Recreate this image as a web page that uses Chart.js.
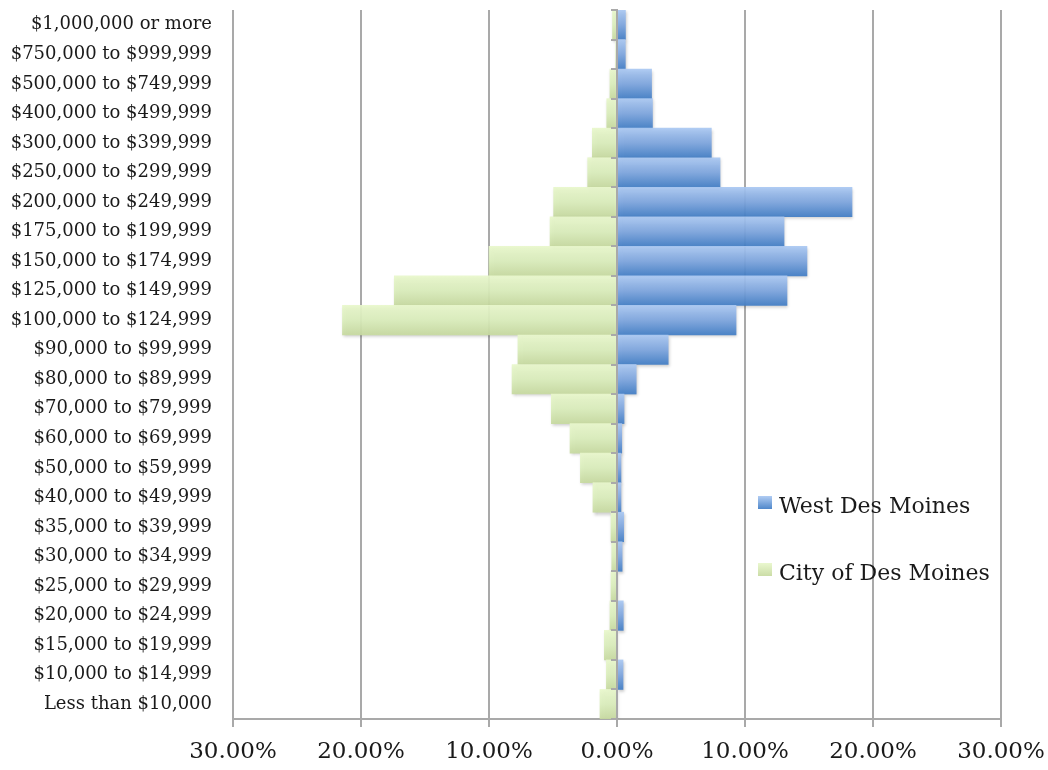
<!DOCTYPE html>
<html>
<head>
<meta charset="utf-8">
<script src="https://cdn.jsdelivr.net/npm/chart.js@4.4.1/dist/chart.umd.min.js"></script>
<style>
  html, body { margin: 0; padding: 0; background: #fff; }
  #wrap { width: 1048px; height: 770px; position: relative; }
</style>
</head>
<body>
<div id="wrap"><canvas id="c"></canvas></div>
<script>
// Household income brackets, top to bottom
const categories = [
  "$1,000,000 or more", "$750,000 to $999,999", "$500,000 to $749,999",
  "$400,000 to $499,999", "$300,000 to $399,999", "$250,000 to $299,999",
  "$200,000 to $249,999", "$175,000 to $199,999", "$150,000 to $174,999",
  "$125,000 to $149,999", "$100,000 to $124,999", "$90,000 to $99,999",
  "$80,000 to $89,999", "$70,000 to $79,999", "$60,000 to $69,999",
  "$50,000 to $59,999", "$40,000 to $49,999", "$35,000 to $39,999",
  "$30,000 to $34,999", "$25,000 to $29,999", "$20,000 to $24,999",
  "$15,000 to $19,999", "$10,000 to $14,999", "Less than $10,000"
];

// Share of households (%) per bracket
const westDesMoines = [
  0.66, 0.65, 2.70, 2.77, 7.37, 8.05, 18.36, 13.05, 14.84, 13.28, 9.30, 4.00,
  1.50, 0.55, 0.37, 0.31, 0.31, 0.52, 0.40, 0.00, 0.49, 0.00, 0.47, 0.00
];
const cityOfDesMoines = [
  0.35, 0.10, 0.55, 0.80, 1.93, 2.29, 4.95, 5.23, 10.00, 17.40, 21.45, 7.74,
  8.20, 5.13, 3.67, 2.86, 1.88, 0.47, 0.41, 0.47, 0.55, 0.99, 0.83, 1.33
];

// Axis tick values (shown as absolute percentages)
const xTickValues = [-30, -20, -10, 0, 10, 20, 30];

const BLUE = ['rgba(170,200,242,0.93)', 'rgba(126,166,223,0.93)', 'rgba(66,126,198,0.93)'];
const GREEN = ['rgba(232,247,203,0.93)', 'rgba(219,238,188,0.93)', 'rgba(199,218,160,0.93)'];
const GRID = '#a9a9a9';
const SERIF = '"DejaVu Serif", "Liberation Serif", serif';

function rowGradient(stops) {
  return (ctx) => {
    const chart = ctx.chart;
    const y = chart.scales && chart.scales.y;
    if (!chart.chartArea || !y || ctx.type !== 'data') return stops[1];
    const c = y.getPixelForValue(ctx.dataIndex);
    const h = y.height / categories.length;
    const g = chart.ctx.createLinearGradient(0, c - h / 2, 0, c + h / 2);
    g.addColorStop(0, stops[0]);
    g.addColorStop(0.5, stops[1]);
    g.addColorStop(1, stops[2]);
    return g;
  };
}

// Soft drop shadow under the bars
const barShadow = {
  id: 'barShadow',
  beforeDatasetsDraw(chart) {
    const ctx = chart.ctx;
    ctx.save();
    ctx.shadowColor = 'rgba(0,0,0,0.22)';
    ctx.shadowBlur = 3;
    ctx.shadowOffsetX = 1;
    ctx.shadowOffsetY = 2;
  },
  afterDatasetsDraw(chart) {
    chart.ctx.restore();
  }
};

// Central value axis with small category tick marks
const centerAxis = {
  id: 'centerAxis',
  afterDatasetsDraw(chart) {
    const { ctx, chartArea: a, scales: { x, y } } = chart;
    const x0 = Math.round(x.getPixelForValue(0));
    const h = y.height / categories.length;
    ctx.save();
    ctx.strokeStyle = GRID;
    ctx.lineWidth = 2;
    ctx.beginPath();
    ctx.moveTo(x0, a.top - 1);
    ctx.lineTo(x0, a.bottom);
    for (let i = 0; i <= categories.length; i++) {
      const yy = Math.round(y.top + i * h);
      ctx.moveTo(x0 - 6, yy);
      ctx.lineTo(x0, yy);
    }
    ctx.stroke();
    ctx.restore();
  }
};

// Legend placed inside the plot, lower right
const insideLegend = {
  id: 'insideLegend',
  afterDraw(chart) {
    const ctx = chart.ctx;
    const items = [
      { ds: chart.data.datasets[0], stops: BLUE, y: 496 },
      { ds: chart.data.datasets[1], stops: GREEN, y: 563 }
    ];
    ctx.save();
    ctx.font = '22px ' + SERIF;
    ctx.textBaseline = 'middle';
    items.forEach(it => {
      const g = ctx.createLinearGradient(0, it.y, 0, it.y + 13);
      g.addColorStop(0, it.stops[0]);
      g.addColorStop(1, it.stops[2]);
      ctx.fillStyle = g;
      ctx.fillRect(758, it.y, 14, 13);
      ctx.fillStyle = '#1a1a1a';
      ctx.fillText(it.ds.label, 779, it.y + 11);
    });
    ctx.restore();
  }
};

new Chart(document.getElementById('c'), {
  type: 'bar',
  data: {
    labels: categories,
    datasets: [
      {
        label: 'West Des Moines',
        data: westDesMoines,
        backgroundColor: rowGradient(BLUE),
        borderWidth: 0,
        barPercentage: 1,
        categoryPercentage: 1
      },
      {
        label: 'City of Des Moines',
        data: cityOfDesMoines.map(v => -v),
        backgroundColor: rowGradient(GREEN),
        borderWidth: 0,
        barPercentage: 1,
        categoryPercentage: 1
      }
    ]
  },
  options: {
    indexAxis: 'y',
    responsive: true,
    maintainAspectRatio: false,
    devicePixelRatio: 1,
    animation: false,
    layout: { padding: { top: 10, right: 47, bottom: 0, left: 0 } },
    plugins: {
      legend: { display: false },
      tooltip: { enabled: false }
    },
    scales: {
      x: {
        stacked: true,
        min: xTickValues[0],
        max: xTickValues[xTickValues.length - 1],
        afterBuildTicks(scale) {
          scale.ticks = xTickValues.map(v => ({ value: v }));
        },
        afterFit(scale) {
          scale.height = 51;
          scale.paddingLeft = 0;
          scale.paddingRight = 0;
        },
        grid: { color: GRID, lineWidth: 2, tickLength: 8, drawTicks: true },
        border: { display: true, color: GRID, width: 2 },
        ticks: {
          padding: 11,
          color: '#1a1a1a',
          font: { family: SERIF, size: 23 },
          maxRotation: 0,
          callback: (v) => Math.abs(v).toFixed(2) + '%'
        }
      },
      y: {
        stacked: true,
        afterFit(scale) {
          scale.width = 233;
          scale.paddingTop = 0;
          scale.paddingBottom = 0;
        },
        grid: { display: false, drawTicks: false },
        border: { display: false },
        ticks: {
          autoSkip: false,
          padding: 21,
          color: '#1a1a1a',
          font: { family: SERIF, size: 18 }
        }
      }
    }
  },
  plugins: [barShadow, centerAxis, insideLegend]
});
</script>
</body>
</html>
